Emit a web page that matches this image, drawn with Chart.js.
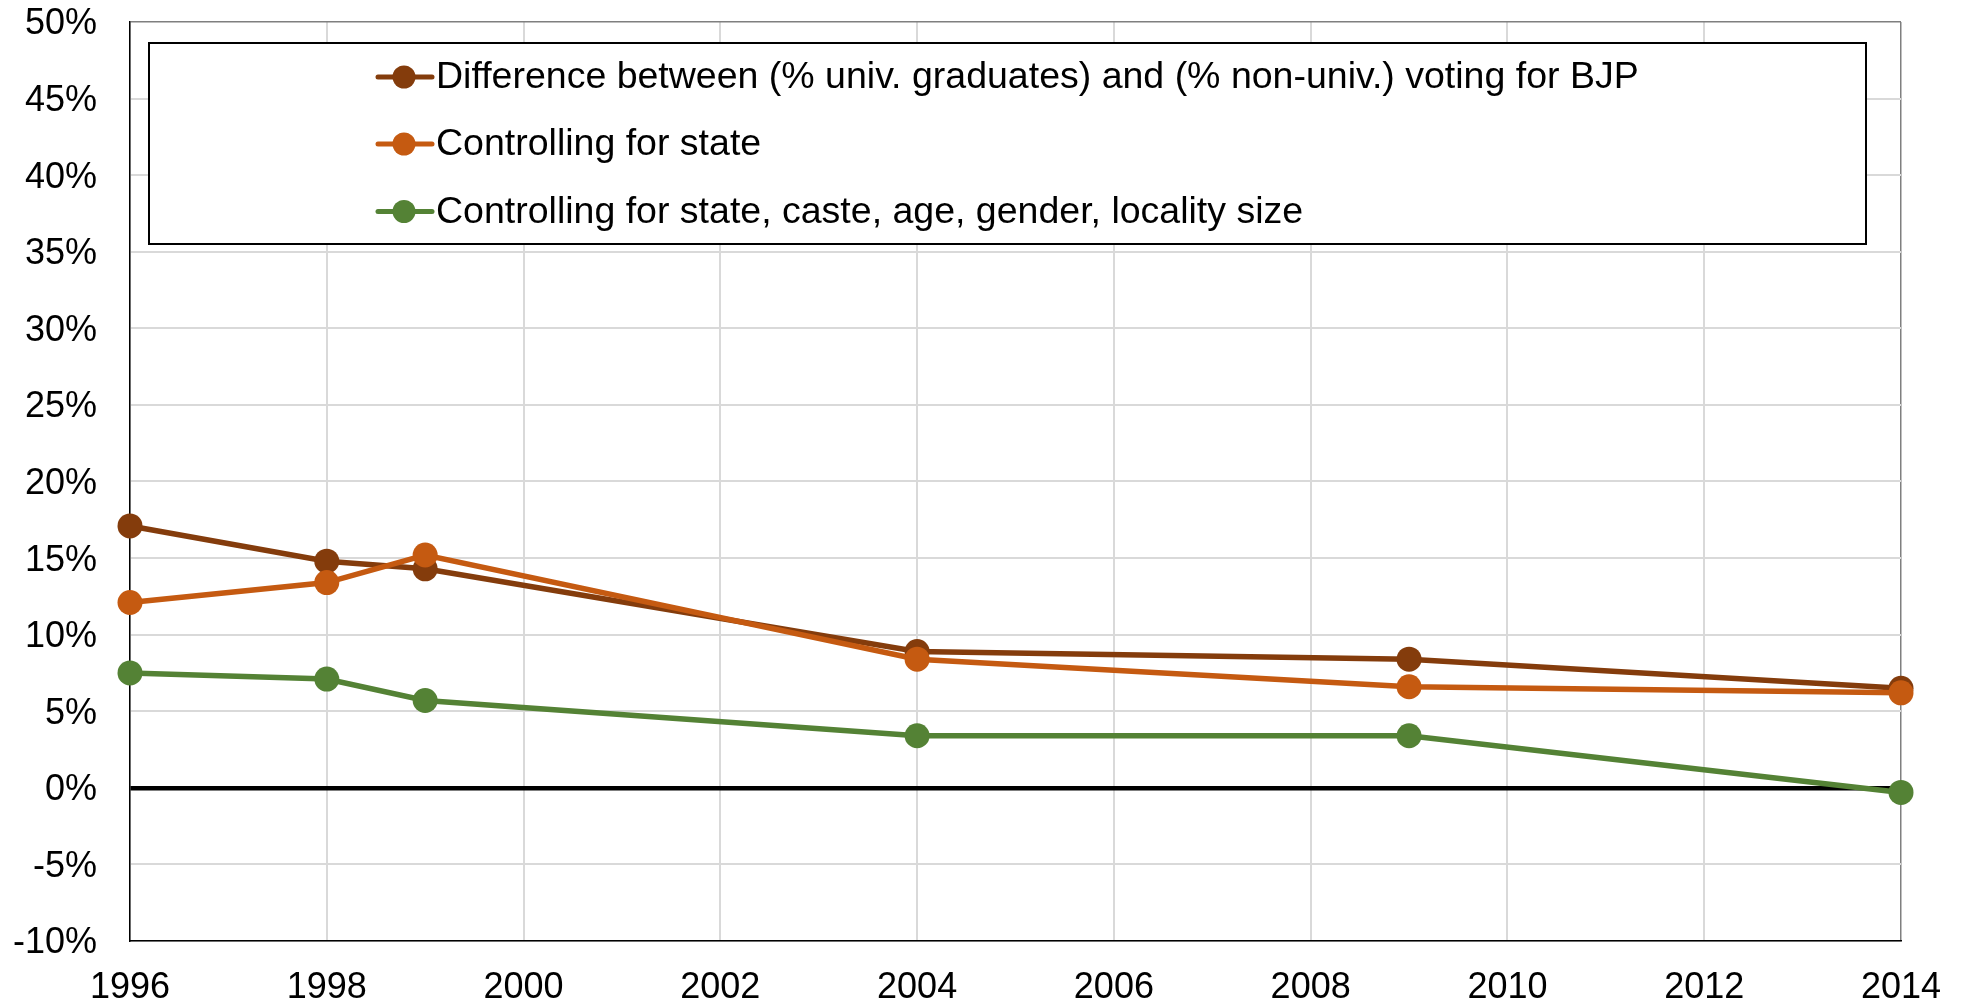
<!DOCTYPE html>
<html><head><meta charset="utf-8">
<script src="https://cdn.jsdelivr.net/npm/chart.js@4/dist/chart.umd.min.js"></script>
<style>html,body{margin:0;padding:0;background:#fff;overflow:hidden}#wrap{width:1968px;height:1005px;position:relative}</style>
</head><body><div id="wrap"><canvas id="c" width="1968" height="1005"></canvas></div>
<script>
const years = [1996, 1998, 1999, 2004, 2009, 2014];
const seriesNames = [
  'Difference between (% univ. graduates) and (% non-univ.) voting for BJP',
  'Controlling for state',
  'Controlling for state, caste, age, gender, locality size'
];
const diffRaw   = [0.171, 0.148, 0.143, 0.089, 0.084, 0.065];
const ctrlState = [0.121, 0.134, 0.152, 0.084, 0.066, 0.062];
const ctrlAll   = [0.075, 0.071, 0.057, 0.034, 0.034, -0.003];
const seriesColors = ['#843C0C', '#C55A11', '#548235'];
const xTickValues = [1996, 1998, 2000, 2002, 2004, 2006, 2008, 2010, 2012, 2014];
const yTickValues = [-0.10, -0.05, 0, 0.05, 0.10, 0.15, 0.20, 0.25, 0.30, 0.35, 0.40, 0.45, 0.50];

const FONT = "'Liberation Sans', Arial, sans-serif";
const seriesValues = [diffRaw, ctrlState, ctrlAll];
const datasets = seriesValues.map((vals, i) => ({
  label: seriesNames[i],
  data: years.map((y, j) => ({x: y, y: vals[j]})),
  borderColor: seriesColors[i],
  backgroundColor: seriesColors[i],
  pointBackgroundColor: seriesColors[i],
  pointBorderWidth: 0,
  pointRadius: 12.5,
  borderWidth: 5.5,
  tension: 0,
  clip: false,
  order: 3 - i
}));

const legendBox = {
  id: 'legendBox',
  afterDraw(chart) {
    const ctx = chart.ctx;
    ctx.save();
    const bx = 149, by = 43, bw = 1866 - 149, bh = 244 - 43;
    ctx.fillStyle = '#ffffff';
    ctx.fillRect(bx, by, bw, bh);
    ctx.strokeStyle = '#000000';
    ctx.lineWidth = 2;
    ctx.strokeRect(bx, by, bw, bh);
    const rows = [77, 144, 211.5];
    chart.data.datasets.forEach((ds, i) => {
      const y = rows[i];
      ctx.strokeStyle = ds.borderColor;
      ctx.lineWidth = 5;
      ctx.lineCap = 'round';
      ctx.beginPath(); ctx.moveTo(378, y); ctx.lineTo(432, y); ctx.stroke();
      ctx.fillStyle = ds.borderColor;
      ctx.beginPath(); ctx.arc(404, y, 11.5, 0, Math.PI * 2); ctx.fill();
      ctx.fillStyle = '#000000';
      ctx.font = '37.5px ' + FONT;
      ctx.textBaseline = 'middle';
      ctx.textAlign = 'left';
      ctx.fillText(ds.label, 436, y + 1);
    });
    ctx.restore();
  }
};

new Chart(document.getElementById('c'), {
  type: 'line',
  data: { datasets },
  plugins: [legendBox],
  options: {
    responsive: false,
    devicePixelRatio: 1,
    animation: false,
    events: [],
    layout: { padding: { top: 22, right: 67, left: 0, bottom: 0 } },
    plugins: { legend: { display: false }, tooltip: { enabled: false } },
    scales: {
      x: {
        type: 'linear',
        min: 1996, max: 2014,
        afterBuildTicks: s => { s.ticks = xTickValues.map(v => ({value: v})); },
        afterFit: s => { s.height = 1005 - 941; },
        border: { display: true, color: '#000000', width: 1.5 },
        grid: {
          drawTicks: true,
          tickLength: 25,
          tickColor: 'rgba(0,0,0,0)',
          color: c => (c.tick && c.tick.value === 2014) ? '#7f7f7f' : '#d9d9d9',
          lineWidth: c => (c.tick && c.tick.value === 2014) ? 1.5 : 2
        },
        ticks: { color: '#000', padding: 0, font: { family: FONT, size: 36 }, maxRotation: 0, autoSkip: false,
                 callback: v => String(v) }
      },
      y: {
        min: -0.10, max: 0.50,
        afterBuildTicks: s => { s.ticks = yTickValues.map(v => ({value: v})); },
        afterFit: s => { s.width = 130; },
        border: { display: true, color: '#000000', width: 1.5 },
        grid: {
          drawTicks: true,
          tickLength: 33,
          tickColor: 'rgba(0,0,0,0)',
          color: c => {
            const v = c.tick ? Math.round(c.tick.value * 1000) : null;
            if (v === 0) return '#000000';
            if (v === 500) return '#7f7f7f';
            return '#d9d9d9';
          },
          lineWidth: c => {
            const v = c.tick ? Math.round(c.tick.value * 1000) : null;
            if (v === 0) return 4.5;
            if (v === 500) return 1.5;
            return 2;
          }
        },
        ticks: { color: '#000', padding: 0, labelOffset: 2.5, font: { family: FONT, size: 36 },
                 callback: v => Math.round(v * 100) + '%' }
      }
    }
  }
});
</script></body></html>
